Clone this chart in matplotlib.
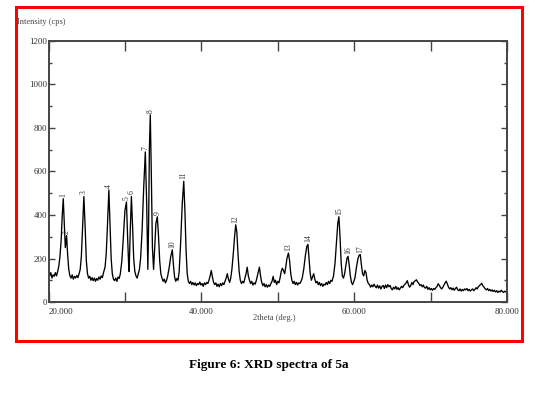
import matplotlib
matplotlib.use("Agg")
import matplotlib.pyplot as plt
from matplotlib.patches import Rectangle
from matplotlib.ticker import MultipleLocator, FixedLocator

# ---- data ----
two_theta = [
 20.0,20.15,20.3,20.45,20.6,20.75,20.9,21.05,21.2,21.35,21.5,21.65,21.8,21.93,22.05,22.2,22.37,22.5,22.65,22.8,
 22.95,23.1,23.25,23.4,23.55,23.7,23.85,24.0,24.15,24.3,24.45,24.63,24.8,24.95,25.1,25.25,25.4,25.55,25.7,25.85,
 26.0,26.15,26.3,26.45,26.6,26.75,26.9,27.05,27.2,27.4,27.55,27.7,27.9,28.05,28.2,28.35,28.5,28.65,28.8,28.95,
 29.1,29.25,29.4,29.6,29.8,30.0,30.2,30.35,30.5,30.55,30.7,30.85,31.0,31.15,31.3,31.45,31.6,31.75,31.9,32.05,
 32.25,32.45,32.67,32.85,33.0,33.1,33.2,33.32,33.45,33.6,33.75,33.9,34.05,34.24,34.4,34.55,34.7,34.85,35.0,35.15,
 35.3,35.45,35.6,35.8,36.0,36.2,36.35,36.5,36.65,36.8,36.95,37.1,37.3,37.5,37.7,37.85,38.0,38.15,38.3,38.45,
 38.6,38.75,38.9,39.05,39.2,39.35,39.5,39.65,39.8,39.95,40.1,40.25,40.4,40.55,40.7,40.85,41.0,41.15,41.3,41.45,
 41.6,41.75,41.9,42.05,42.2,42.35,42.5,42.65,42.8,42.95,43.1,43.25,43.4,43.55,43.7,43.85,44.0,44.2,44.35,44.5,
 44.65,44.8,44.95,45.1,45.25,45.4,45.55,45.7,45.85,46.0,46.15,46.3,46.45,46.6,46.75,46.9,47.05,47.2,47.4,47.6,
 47.75,47.9,48.05,48.2,48.35,48.5,48.65,48.8,48.95,49.1,49.25,49.4,49.55,49.7,49.85,50.0,50.15,50.3,50.45,50.6,
 50.75,50.9,51.05,51.2,51.4,51.55,51.7,51.85,52.0,52.15,52.3,52.45,52.6,52.75,52.9,53.05,53.2,53.4,53.6,53.8,
 53.95,54.1,54.25,54.4,54.55,54.7,54.85,55.0,55.15,55.3,55.45,55.6,55.75,55.9,56.05,56.2,56.35,56.5,56.65,56.8,
 56.95,57.1,57.3,57.5,57.7,57.85,58.0,58.15,58.3,58.45,58.6,58.75,58.9,59.05,59.2,59.35,59.5,59.65,59.8,59.95,
 60.1,60.3,60.5,60.65,60.8,60.95,61.1,61.25,61.4,61.55,61.7,61.85,62.0,62.15,62.3,62.45,62.6,62.75,62.9,63.05,
 63.2,63.35,63.5,63.65,63.8,63.95,64.1,64.25,64.4,64.55,64.7,64.85,65.0,65.15,65.3,65.45,65.6,65.75,65.9,66.05,
 66.2,66.35,66.5,66.65,66.8,66.95,67.1,67.25,67.4,67.55,67.7,67.85,68.0,68.15,68.3,68.45,68.6,68.75,68.9,69.05,
 69.2,69.35,69.5,69.65,69.8,69.95,70.1,70.25,70.4,70.55,70.7,70.85,71.0,71.15,71.3,71.45,71.6,71.75,71.9,72.05,
 72.2,72.35,72.5,72.65,72.8,72.95,73.1,73.25,73.4,73.55,73.7,73.85,74.0,74.15,74.3,74.45,74.6,74.75,74.9,75.05,
 75.2,75.35,75.5,75.65,75.8,75.95,76.1,76.25,76.4,76.55,76.7,76.85,77.0,77.15,77.3,77.45,77.6,77.75,77.9,78.05,
 78.2,78.35,78.5,78.65,78.8,78.95,79.1,79.25,79.4,79.55,79.7,79.85,80.0]

intensity = [
 150,120,135,110,125,118,135,120,140,165,210,280,400,475,380,250,305,220,150,120,
 110,125,105,118,110,122,112,130,150,210,330,485,340,190,130,110,118,100,112,98,
 110,95,108,100,115,105,120,112,135,160,220,340,515,360,200,130,105,98,110,95,
 115,108,130,190,300,420,460,300,160,140,330,485,350,200,140,120,110,130,150,200,
 330,520,690,450,150,350,700,860,600,250,150,250,360,392,300,190,130,110,95,105,
 88,100,120,160,210,240,170,115,95,108,100,140,280,450,555,420,240,130,95,85,
 95,80,90,78,88,75,85,80,92,78,85,72,88,80,90,85,100,120,145,115,
 90,80,88,72,82,70,85,75,88,80,95,110,130,105,90,110,150,230,300,355,
 320,220,140,100,85,95,88,110,130,160,120,100,85,95,78,88,82,100,130,160,
 120,90,75,85,70,80,68,78,72,85,95,118,90,100,80,95,88,110,140,155,
 145,130,160,200,225,190,130,100,85,95,80,90,78,88,85,95,110,150,210,255,
 265,200,130,100,115,130,105,88,95,80,90,75,85,72,82,78,90,80,95,85,
 100,95,120,180,280,360,392,300,180,120,110,130,165,200,210,170,120,90,80,95,
 110,160,200,215,218,170,130,120,145,135,100,85,80,68,78,70,82,72,65,78,
 64,74,60,72,76,62,78,66,80,70,76,62,56,68,60,72,58,66,56,64,
 72,66,76,82,88,98,80,68,76,90,80,94,98,102,92,86,76,80,70,78,
 66,64,72,58,66,56,62,54,62,58,66,72,84,76,66,60,68,78,88,96,
 82,68,60,66,56,64,54,62,68,56,52,60,50,58,52,60,56,62,52,58,
 50,56,60,52,58,66,60,70,76,80,86,74,68,60,56,62,52,58,50,56,
 48,54,46,52,44,50,46,54,48,44,50,46,44]

peak_labels = ["1","2","3","4","5","6","7","8","9","10","11","12","13","14","15","16","17"]
peak_pos = [21.93,22.37,24.63,27.9,30.2,30.85,32.67,33.32,34.24,36.2,37.7,44.5,51.4,53.95,58.0,59.2,60.8]
peak_int = [475,305,485,515,460,485,690,860,392,240,555,355,225,265,392,210,218]

x_ticks = [20, 30, 40, 50, 60, 70, 80]
x_tick_labels = ["20.000", "", "40.000", "", "60.000", "", "80.000"]
y_ticks = [0, 200, 400, 600, 800, 1000, 1200]
y_tick_labels = ["0", "200", "400", "600", "800", "1000", "1200"]

# ---- figure ----
W, H = 543, 398
fig = plt.figure(figsize=(W / 100, H / 100), dpi=100)
serif = ["Liberation Serif", "DejaVu Serif"]
gray = "#444444"

ax = fig.add_axes([48.5 / W, 1 - 302 / H, (507 - 48.5) / W, (302 - 41) / H])
ax.plot(two_theta, intensity, color="black", lw=0.95)
ax.set_xlim(20, 80)
ax.set_ylim(0, 1200)

for lab, px, py in zip(peak_labels, peak_pos, peak_int):
    ax.annotate(lab, (px, py), xytext=(0, 1.5), textcoords="offset points",
                rotation=90, ha="center", va="bottom", fontsize=5.5,
                family=serif, color="#333333")

ax.xaxis.set_major_locator(FixedLocator(x_ticks))
ax.set_xticklabels(x_tick_labels)
ax.yaxis.set_major_locator(FixedLocator(y_ticks))
ax.set_yticklabels(y_tick_labels)
ax.yaxis.set_minor_locator(MultipleLocator(100))

ax.tick_params(axis="x", which="major", direction="in", length=7, width=1.0,
               top=True, bottom=True, color=gray, labelsize=6.5, pad=4, labelcolor="#333333")
ax.tick_params(axis="y", which="major", direction="in", length=4, width=1.0,
               left=True, right=True, color=gray, labelsize=6.5, pad=1, labelcolor="#333333")
ax.tick_params(axis="y", which="minor", direction="in", length=2.5, width=1.0,
               left=True, right=True, color=gray)
for lbl in ax.get_xticklabels() + ax.get_yticklabels():
    lbl.set_family(serif)
ax.get_xticklabels()[0].set_horizontalalignment("left")

for sp in ax.spines.values():
    sp.set_color(gray)
    sp.set_linewidth(1.4)

fig.text(17 / W, 1 - 22.5 / H, "Intensity (cps)", fontsize=6, family=serif,
         color="#444444", ha="left", va="center")
fig.text(274 / W, 1 - 318 / H, "2theta (deg.)", fontsize=6, family=serif,
         color="#444444", ha="center", va="center")
fig.text(269 / W, 1 - 365 / H, "Figure 6: XRD spectra of 5a", fontsize=9.5,
         family=serif, weight="bold", color="black", ha="center", va="center")

fig.patches.append(Rectangle((16 / W, 1 - 341 / H), (522 - 16) / W, (341 - 7) / H,
                             transform=fig.transFigure, fill=False,
                             edgecolor="red", linewidth=2.2))

fig.savefig("out.png", dpi=100)
